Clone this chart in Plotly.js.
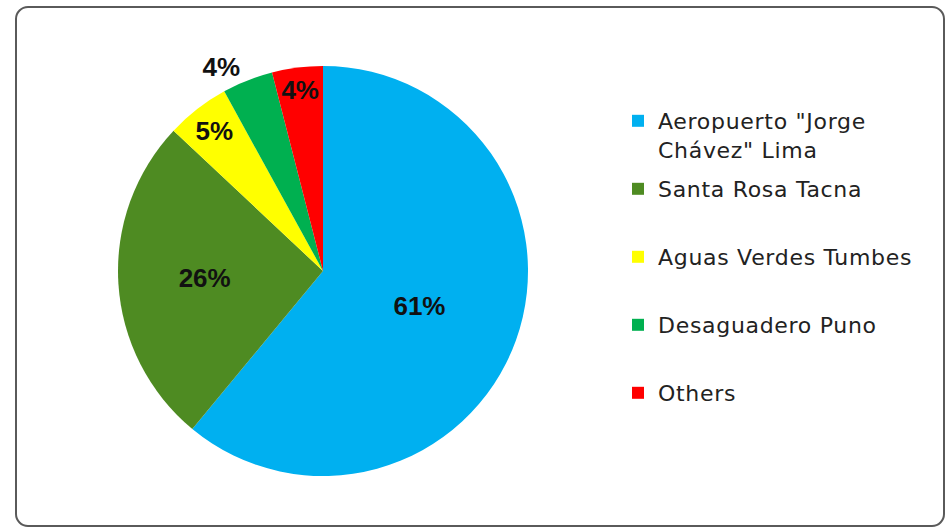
<!DOCTYPE html>
<html>
<head>
<meta charset="utf-8">
<script src="https://cdn.plot.ly/plotly-3.0.1.min.js"></script>
<style>
  html, body { margin: 0; padding: 0; background: #fff; }
  #wrap { position: relative; width: 949px; height: 530px; }
  #chart { position: absolute; left: 0; top: 0; width: 949px; height: 530px; }
  #frame { position: absolute; left: 15px; top: 6px; width: 930px; height: 521px;
           box-sizing: border-box; border: 2px solid #5a5a5a; border-radius: 13px; pointer-events: none; }
  .legendtext { letter-spacing: 0.7px; }
</style>
</head>
<body>
<div id="wrap">
  <div id="chart"></div>
  <div id="frame"></div>
</div>
<script>
// Data
var categories = ['Aeropuerto "Jorge<br>Chávez" Lima', 'Santa Rosa Tacna', 'Aguas Verdes Tumbes', 'Desaguadero Puno', 'Others'];
var shares = [61, 26, 5, 4, 4];
var sliceColors = ['#00B0F0', '#4E8B22', '#FFFF00', '#00B050', '#FF0000'];
var labelPositions = ['inside', 'inside', 'inside', 'outside', 'inside'];

var LEGEND_ROW_GAP = 68; // px between legend rows, as in the reference

// every legend entry made two lines tall so all rows share the same text offset
var legendLabels = categories.map(function (c) {
  return c.indexOf('<br>') >= 0 ? c : c + '<br> ';
});

var trace = {
  type: 'pie',
  labels: legendLabels,
  values: shares,
  sort: false,
  direction: 'clockwise',
  rotation: 0,
  marker: { colors: sliceColors, line: { width: 0 } },
  textinfo: 'percent',
  texttemplate: '%{percent:.0%}',
  textposition: labelPositions,
  insidetextorientation: 'horizontal',
  textfont: { family: 'Liberation Sans, Arial, sans-serif', size: 26, color: '#111', weight: 'bold' },
  outsidetextfont: { family: 'Liberation Sans, Arial, sans-serif', size: 26, color: '#111', weight: 'bold' },
  automargin: false,
  domain: { x: [118 / 949, 528 / 949], y: [1 - 476 / 530, 1 - 66 / 530] },
  hoverinfo: 'label+percent'
};

var layout = {
  width: 949,
  height: 530,
  margin: { l: 0, r: 0, t: 0, b: 0 },
  paper_bgcolor: '#ffffff',
  showlegend: true,
  uniformtext: { minsize: 26, mode: 'show' },
  legend: {
    x: 618 / 949,
    y: 1 - 100 / 530,
    xanchor: 'left',
    yanchor: 'top',
    valign: 'top',
    font: { family: 'DejaVu Sans, sans-serif', size: 22, color: '#222' },
    bgcolor: 'rgba(0,0,0,0)'
  }
};

Plotly.newPlot('chart', [trace], layout, { displayModeBar: false, staticPlot: true }).then(function (gd) {
  // spread legend rows evenly like the reference
  var items = gd.querySelectorAll('.legend .traces');
  if (!items.length) return;
  var m = /translate\(\s*([-\d.]+)[ ,]+([-\d.]+)\s*\)/.exec(items[0].getAttribute('transform') || '');
  if (!m) return;
  var x0 = parseFloat(m[1]), y0 = parseFloat(m[2]);
  items.forEach(function (el, i) {
    el.setAttribute('transform', 'translate(' + x0 + ',' + (y0 + i * LEGEND_ROW_GAP) + ')');
  });
  gd.querySelectorAll('.legend .scrollbox').forEach(function (sb) { sb.removeAttribute('clip-path'); });
});
</script>
</body>
</html>
